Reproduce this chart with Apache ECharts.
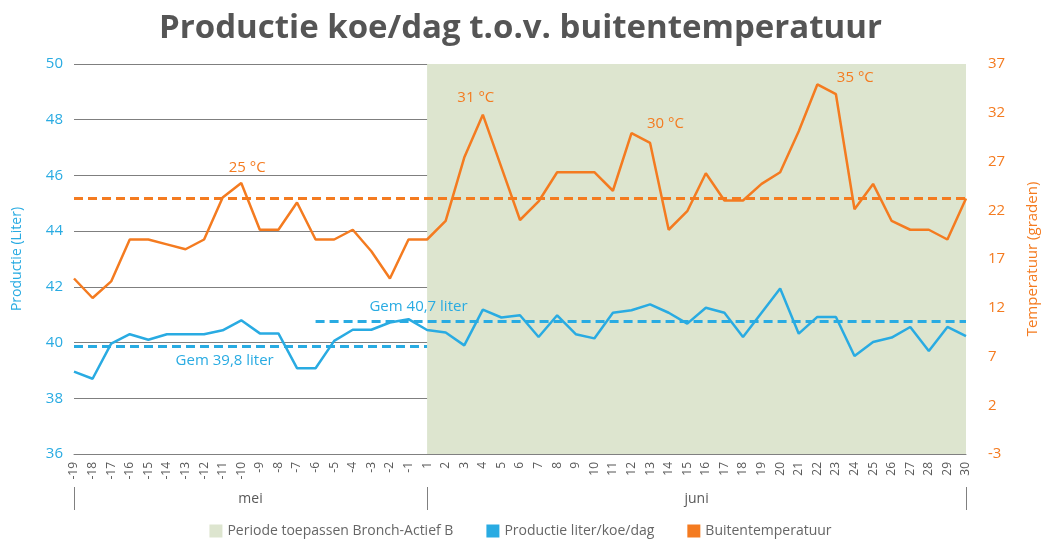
<!DOCTYPE html>
<html>
<head>
<meta charset="utf-8">
<script src="https://cdn.jsdelivr.net/npm/echarts@6/dist/echarts.min.js"></script>
<style>
  html, body { margin: 0; padding: 0; background: #ffffff; overflow: hidden; }
  #chart { width: 1041px; height: 552px; }
</style>
</head>
<body>
<div id="chart"></div>
<script>
// ---- data ----
const days = ['-19','-18','-17','-16','-15','-14','-13','-12','-11','-10','-9','-8','-7','-6','-5','-4','-3','-2','-1',
  '1','2','3','4','5','6','7','8','9','10','11','12','13','14','15','16','17','18','19','20','21','22','23','24','25','26','27','28','29','30'];
const production = [38.96, 38.7, 39.96, 40.3, 40.1, 40.3, 40.3, 40.3, 40.44, 40.8, 40.33, 40.33, 39.08, 39.08, 40.06, 40.46, 40.46, 40.72, 40.84,
  40.45, 40.36, 39.9, 41.18, 40.9, 40.98, 40.2, 40.98, 40.3, 40.15, 41.07, 41.16, 41.37, 41.07, 40.68, 41.25, 41.07, 40.2, 41.07, 41.94, 40.32, 40.92, 40.92, 39.52, 40.02, 40.18, 40.56, 39.7, 40.56, 40.23];
const temperature = [15, 13, 14.7, 19, 19, 18.5, 18, 19, 23.3, 24.8, 20, 20, 22.8, 19, 19, 20, 17.8, 15, 19,
  19, 20.9, 27.4, 31.8, 26.4, 21, 22.9, 25.9, 25.9, 25.9, 24, 29.9, 28.9, 20, 21.9, 25.8, 23, 23, 24.7, 25.9, 30.1, 34.9, 33.9, 22.1, 24.7, 20.9, 20, 20, 19, 23.2];
const months = ['mei', 'juni'];
const monthStart = ['-19', '1'];
const periodRange = ['1', '30'];
const avgTemp = 23.2;
const avgProdBefore = { value: 39.87, from: '-19', to: '1', label: 'Gem 39,8 liter' };
const avgProdAfter = { value: 40.78, from: '-6', to: '30', label: 'Gem 40,7 liter' };
const peakLabels = [
  { day: '-10', text: '25 °C' },
  { day: '4', text: '31 °C' },
  { day: '12', text: '30 °C' },
  { day: '22', text: '35 °C' }
];
const seriesNames = ['Periode toepassen Bronch-Actief B', 'Productie liter/koe/dag', 'Buitentemperatuur'];

// ---- styles ----
const BLUE = '#29abe2';
const ORANGE = '#f47b20';
const GREEN = '#dde5cf';
const GRAY = '#595959';
const FONT = '"Open Sans", Lato, sans-serif';

// month band axis: one band between each pair of consecutive days
const bandCount = days.length - 1;
const startIdx = monthStart.map(d => days.indexOf(d));
const bandLabels = new Array(bandCount).fill('');
startIdx.forEach((s, i) => {
  const e = i + 1 < startIdx.length ? startIdx[i + 1] : bandCount;
  bandLabels[Math.floor((s + e) / 2)] = months[i];
});

const peakOffsets = [[6, -15], [-7, -17], [34, -9], [38, -7]];

const chart = echarts.init(document.getElementById('chart'), null, { renderer: 'canvas' });
chart.setOption({
  animation: false,
  backgroundColor: '#ffffff',
  textStyle: { fontFamily: FONT },
  title: {
    text: 'Productie koe/dag t.o.v. buitentemperatuur',
    left: 'center',
    top: 7,
    textStyle: { fontFamily: FONT, fontSize: 33, fontWeight: 'bold', color: '#555555' }
  },
  legend: {
    bottom: 9,
    left: 'center',
    itemWidth: 13,
    itemHeight: 13,
    itemGap: 33,
    textStyle: { fontSize: 14, color: '#666666', fontFamily: FONT },
    data: seriesNames.map(n => ({ name: n, icon: 'rect' }))
  },
  grid: { left: 74, right: 75, top: 64, bottom: 98, containLabel: false, outerBoundsMode: 'none' },
  xAxis: [
    {
      type: 'category',
      data: days,
      boundaryGap: false,
      axisLine: { show: true, onZero: false, lineStyle: { color: '#808080', width: 1 } },
      axisTick: { show: false },
      axisLabel: { rotate: 90, interval: 0, fontSize: 12, color: GRAY, margin: 8 },
      splitLine: { show: false }
    },
    {
      type: 'category',
      data: bandLabels,
      boundaryGap: true,
      position: 'bottom',
      offset: 33,
      axisLine: { show: false, onZero: false },
      axisTick: {
        show: true,
        length: 23,
        interval: (i) => startIdx.indexOf(i) >= 0,
        lineStyle: { color: '#808080', width: 1 }
      },
      axisLabel: { interval: 0, fontSize: 14, color: GRAY, margin: 5 },
      splitLine: { show: false }
    }
  ],
  yAxis: [
    {
      type: 'value',
      min: 36, max: 50, interval: 2,
      name: 'Productie (Liter)',
      nameLocation: 'middle',
      nameGap: 50,
      nameTextStyle: { color: BLUE, fontSize: 14 },
      axisLine: { show: false },
      axisTick: { show: false },
      axisLabel: { color: BLUE, fontSize: 15, margin: 11 },
      splitLine: { show: true, lineStyle: { color: '#7f7f7f', width: 1 } }
    },
    {
      type: 'value',
      min: -3, max: 37, interval: 5,
      name: 'Temperatuur (graden)',
      nameLocation: 'middle',
      nameGap: 59,
      nameRotate: 90,
      nameTextStyle: { color: ORANGE, fontSize: 15 },
      axisLine: { show: false },
      axisTick: { show: false },
      axisLabel: { color: ORANGE, fontSize: 15, margin: 22 },
      splitLine: { show: false }
    }
  ],
  series: [
    {
      name: seriesNames[0],
      type: 'line',
      data: [],
      color: GREEN,
      z: -1,
      markArea: {
        silent: true,
        itemStyle: { color: GREEN, opacity: 1 },
        data: [[{ xAxis: periodRange[0] }, { xAxis: periodRange[1] }]]
      }
    },
    {
      name: seriesNames[1],
      type: 'line',
      data: production,
      yAxisIndex: 0,
      color: BLUE,
      symbol: 'none',
      lineStyle: { width: 2.5, color: BLUE },
      markLine: {
        silent: true,
        symbol: 'none',
        lineStyle: { color: BLUE, type: [9, 5], width: 3 },
        label: { show: false },
        data: [
          [{ coord: [avgProdBefore.from, avgProdBefore.value] }, { coord: [avgProdBefore.to, avgProdBefore.value] }],
          [{ coord: [avgProdAfter.from, avgProdAfter.value] }, { coord: [avgProdAfter.to, avgProdAfter.value] }]
        ]
      },
      markPoint: {
        silent: true,
        symbol: 'circle',
        symbolSize: 0,
        data: [
          { coord: ['-11', avgProdBefore.value], label: { show: true, formatter: avgProdBefore.label, color: BLUE, fontSize: 15, offset: [2, 15] } },
          { coord: ['-1', avgProdAfter.value], label: { show: true, formatter: avgProdAfter.label, color: BLUE, fontSize: 15, offset: [10, -14] } }
        ]
      }
    },
    {
      name: seriesNames[2],
      type: 'line',
      data: temperature,
      yAxisIndex: 1,
      color: ORANGE,
      symbol: 'none',
      lineStyle: { width: 2.5, color: ORANGE },
      markLine: {
        silent: true,
        symbol: 'none',
        lineStyle: { color: ORANGE, type: [9, 5], width: 3 },
        label: { show: false },
        data: [{ yAxis: avgTemp }]
      },
      markPoint: {
        silent: true,
        symbol: 'circle',
        symbolSize: 0,
        data: peakLabels.map((p, i) => ({
          coord: [p.day, temperature[days.indexOf(p.day)]],
          label: { show: true, formatter: p.text, color: ORANGE, fontSize: 15, offset: peakOffsets[i] }
        }))
      }
    }
  ]
});
</script>
</body>
</html>
